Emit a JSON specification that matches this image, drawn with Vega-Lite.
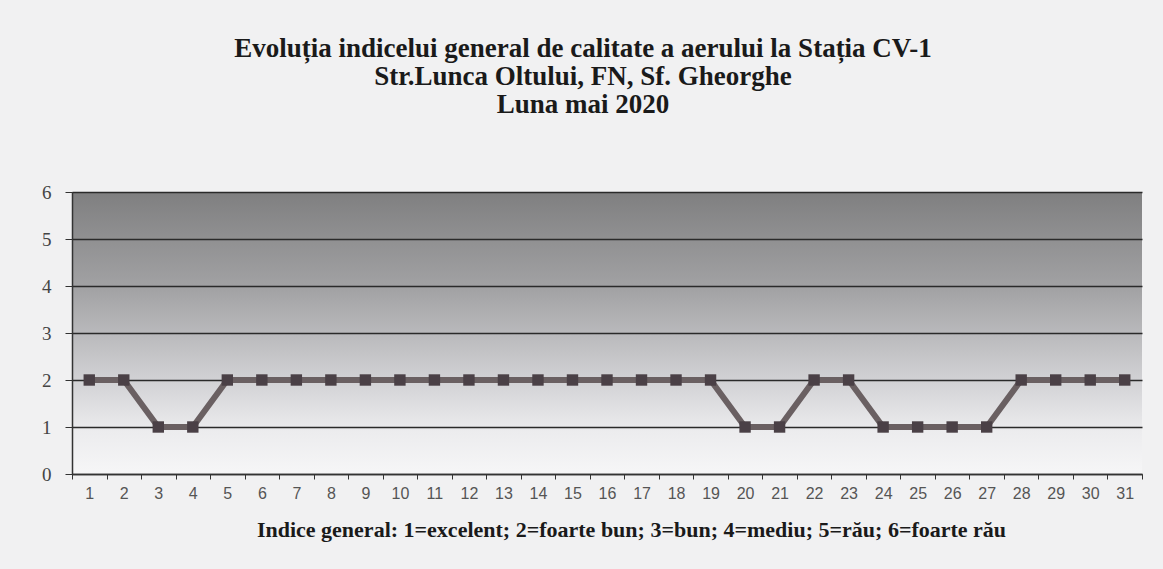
{
  "$schema": "https://vega.github.io/schema/vega-lite/v6.json",
  "width": 1070,
  "height": 282,
  "autosize": {"type": "none"},
  "padding": {"left": 72, "top": 192, "right": 21, "bottom": 95},
  "background": "#f1f1f2",
  "title": {
    "text": ["Evoluția indicelui general de calitate a aerului la Stația CV-1", "Str.Lunca Oltului, FN, Sf. Gheorghe", "Luna mai 2020"],
    "font": "Liberation Serif",
    "fontSize": 27,
    "fontWeight": "bold",
    "color": "#1a1a1a",
    "lineHeight": 28,
    "anchor": "middle",
    "dx": -24,
    "offset": 64
  },
  "view": {
    "stroke": null,
    "fill": {
      "gradient": "linear",
      "x1": 0, "y1": 0, "x2": 0, "y2": 1,
      "stops": [
        {"offset": 0, "color": "#7f7f80"},
        {"offset": 0.35, "color": "#a3a3a5"},
        {"offset": 0.65, "color": "#cfcfd2"},
        {"offset": 0.85, "color": "#ececee"},
        {"offset": 1, "color": "#f6f6f7"}
      ]
    }
  },
  "data": {
    "values": [
      {"zi": 1, "indice": 2}, {"zi": 2, "indice": 2}, {"zi": 3, "indice": 1}, {"zi": 4, "indice": 1},
      {"zi": 5, "indice": 2}, {"zi": 6, "indice": 2}, {"zi": 7, "indice": 2}, {"zi": 8, "indice": 2},
      {"zi": 9, "indice": 2}, {"zi": 10, "indice": 2}, {"zi": 11, "indice": 2}, {"zi": 12, "indice": 2},
      {"zi": 13, "indice": 2}, {"zi": 14, "indice": 2}, {"zi": 15, "indice": 2}, {"zi": 16, "indice": 2},
      {"zi": 17, "indice": 2}, {"zi": 18, "indice": 2}, {"zi": 19, "indice": 2}, {"zi": 20, "indice": 1},
      {"zi": 21, "indice": 1}, {"zi": 22, "indice": 2}, {"zi": 23, "indice": 2}, {"zi": 24, "indice": 1},
      {"zi": 25, "indice": 1}, {"zi": 26, "indice": 1}, {"zi": 27, "indice": 1}, {"zi": 28, "indice": 2},
      {"zi": 29, "indice": 2}, {"zi": 30, "indice": 2}, {"zi": 31, "indice": 2}
    ]
  },
  "encoding": {
    "x": {
      "field": "zi",
      "type": "ordinal",
      "scale": {"type": "band", "paddingInner": 0, "paddingOuter": 0},
      "axis": {
        "title": "Indice general: 1=excelent; 2=foarte bun; 3=bun; 4=mediu; 5=rău; 6=foarte rău",
        "titleFont": "Liberation Serif",
        "titleFontSize": 22,
        "titleFontWeight": "bold",
        "titleColor": "#1a1a1a",
        "titleX": 559,
        "titleY": 45,
        "labelAngle": 0,
        "labelFont": "Liberation Sans",
        "labelFontSize": 16,
        "labelColor": "#555555",
        "labelPadding": 6,
        "domainColor": "#333333",
        "domainWidth": 1.5,
        "tickColor": "#333333",
        "tickBand": "extent",
        "tickSize": 5,
        "grid": false
      }
    },
    "y": {
      "field": "indice",
      "type": "quantitative",
      "scale": {"domain": [0, 6], "nice": false},
      "axis": {
        "title": null,
        "values": [0, 1, 2, 3, 4, 5, 6],
        "labelOverlap": false,
        "labelFont": "Liberation Serif",
        "labelFontSize": 19,
        "labelColor": "#444444",
        "labelPadding": 14,
        "domainColor": "#333333",
        "domainWidth": 1.5,
        "tickColor": "#333333",
        "tickSize": 7,
        "grid": true,
        "gridColor": "#2a2a2a",
        "gridWidth": 1.3
      }
    }
  },
  "layer": [
    {
      "mark": {"type": "line", "color": "#6a6062", "strokeWidth": 6}
    },
    {
      "mark": {"type": "point", "shape": "square", "filled": true, "color": "#4a4046", "size": 130, "opacity": 1}
    }
  ]
}
